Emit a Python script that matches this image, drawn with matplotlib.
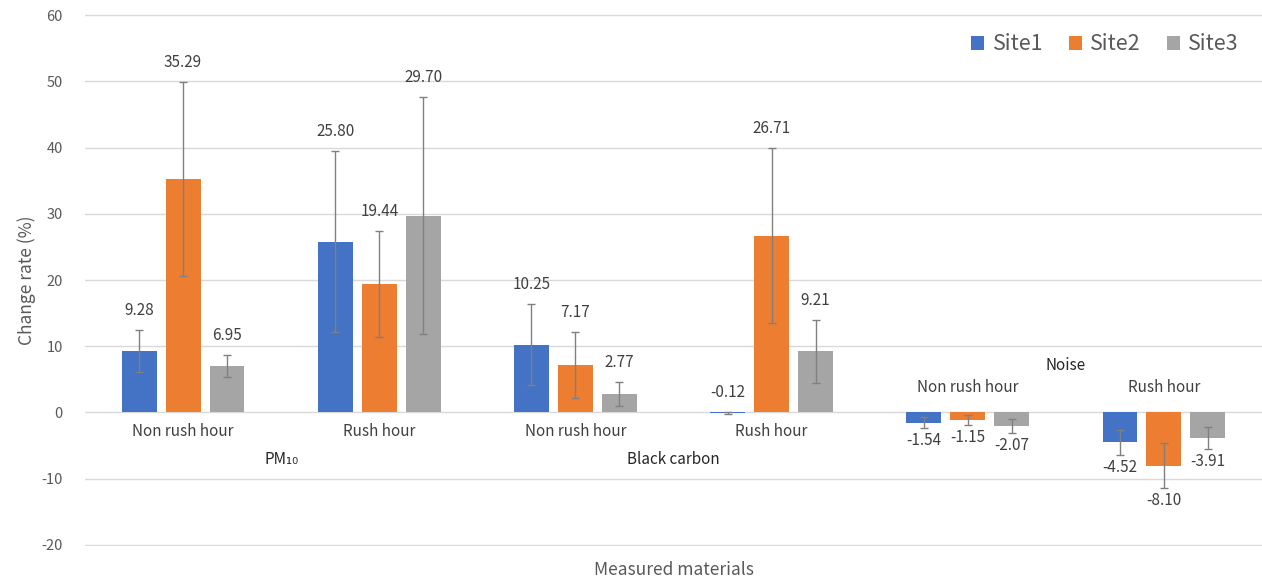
import numpy as np
import matplotlib
matplotlib.use("Agg")
import matplotlib.pyplot as plt

plt.rcParams['font.family'] = ['Noto Sans CJK KR', 'DejaVu Sans']
plt.rcParams['axes.unicode_minus'] = False

# data
materials = ["PM₁₀", "Black carbon", "Noise"]
periods = ["Non rush hour", "Rush hour"]
sites = ["Site1", "Site2", "Site3"]
colors = ["#4472C4", "#ED7D31", "#A5A5A5"]

site1 = [9.28, 25.80, 10.25, -0.12, -1.54, -4.52]
site2 = [35.29, 19.44, 7.17, 26.71, -1.15, -8.10]
site3 = [6.95, 29.70, 2.77, 9.21, -2.07, -3.91]

site1_err = [3.2, 13.7, 6.1, 0.15, 0.9, 1.9]
site2_err = [14.7, 8.0, 5.0, 13.2, 0.7, 3.4]
site3_err = [1.65, 17.9, 1.8, 4.8, 1.05, 1.7]

values = [site1, site2, site3]
errors = [site1_err, site2_err, site3_err]

fig = plt.figure(figsize=(12.62, 5.82), dpi=100)
ax = fig.add_axes([85 / 1262, 36 / 582, 1177 / 1262, 532 / 582])

x = np.arange(len(site1))
offset = 0.224
width = 0.178

for i, (vals, errs) in enumerate(zip(values, errors)):
    pos = x + (i - 1) * offset
    ax.bar(pos, vals, width, color=colors[i], label=sites[i], zorder=2)
    ax.errorbar(pos, vals, yerr=errs, fmt='none', ecolor='#808080',
                elinewidth=1, capsize=3, capthick=1, zorder=3)
    for p, v, e in zip(pos, vals, errs):
        if v > -0.5:
            ax.annotate(f"{v:.2f}", (p, v + e), xytext=(0, 14),
                        textcoords='offset points', ha='center', va='center',
                        fontsize=11, color='#404040')
        else:
            ax.annotate(f"{v:.2f}", (p, v - e), xytext=(0, -9),
                        textcoords='offset points', ha='center', va='center',
                        fontsize=11, color='#404040')

ax.set_xlim(-0.5, len(site1) - 0.5)
ax.set_ylim(-20.2, 60.2)
ax.set_yticks(np.arange(-20, 61, 10))
ax.yaxis.grid(True, color='#d9d9d9', linewidth=1, zorder=0)
ax.set_xticks([])
for s in ax.spines.values():
    s.set_visible(False)
ax.tick_params(axis='y', length=0, pad=16, labelsize=10.5, labelcolor='#595959')

# category labels (multi-level axis)
for k in range(len(site1)):
    grp = k // 2
    if grp < 2:
        ax.annotate(periods[k % 2], (k, 0), xytext=(0, -14), textcoords='offset points',
                    ha='center', va='center', fontsize=11, color='#404040')
    else:
        ax.annotate(periods[k % 2], (k, 0), xytext=(0, 18), textcoords='offset points',
                    ha='center', va='center', fontsize=11, color='#404040')
for g, name in enumerate(materials):
    if g < 2:
        ax.annotate(name, (2 * g + 0.5, 0), xytext=(0, -34), textcoords='offset points',
                    ha='center', va='center', fontsize=11, color='#262626')
    else:
        ax.annotate(name, (2 * g + 0.5, 0), xytext=(0, 34), textcoords='offset points',
                    ha='center', va='center', fontsize=11, color='#262626')

ax.set_ylabel("Change rate (%)", fontsize=12.5, color='#595959', labelpad=4)
ax.set_xlabel("Measured materials", fontsize=12.5, color='#595959', labelpad=0)
ax.xaxis.set_label_coords(0.5, -0.028)

leg = ax.legend(loc='upper right', bbox_to_anchor=(0.997, 1.0), ncol=3, frameon=False,
                fontsize=15.5, handlelength=0.6, handleheight=0.6, handletextpad=0.4,
                columnspacing=1.2)
for t in leg.get_texts():
    t.set_color('#595959')

fig.savefig("out.png", dpi=100)
